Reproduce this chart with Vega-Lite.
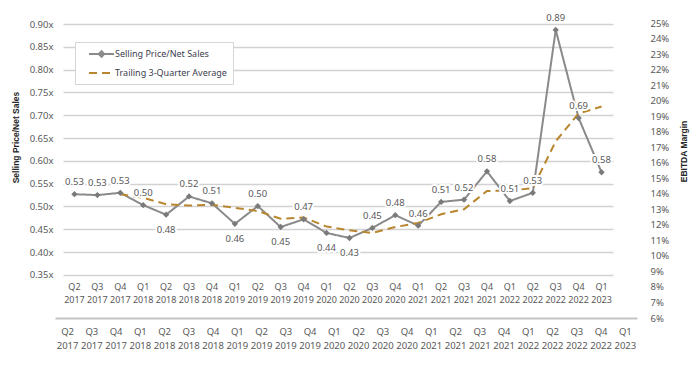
{
"$schema": "https://vega.github.io/schema/vega-lite/v6.json",
"width": 550,
"height": 295,
"autosize": {"type": "none"},
"padding": {"left": 63, "top": 23, "right": 87, "bottom": 56},
"background": "white",
"config": {
  "view": {"stroke": null},
  "font": "Noto Sans",
  "axis": {"labelFont": "Noto Sans", "titleFont": "Liberation Sans"},
  "legend": {"labelFont": "Noto Sans"}
},
"data": {"values": [
  {"q": "Q2 2017", "series": "Selling Price/Net Sales", "v": 0.527, "lbl": "0.53"},
  {"q": "Q3 2017", "series": "Selling Price/Net Sales", "v": 0.525, "lbl": "0.53"},
  {"q": "Q4 2017", "series": "Selling Price/Net Sales", "v": 0.530, "lbl": "0.53"},
  {"q": "Q1 2018", "series": "Selling Price/Net Sales", "v": 0.503, "lbl": "0.50"},
  {"q": "Q2 2018", "series": "Selling Price/Net Sales", "v": 0.482, "lbl": "0.48"},
  {"q": "Q3 2018", "series": "Selling Price/Net Sales", "v": 0.522, "lbl": "0.52"},
  {"q": "Q4 2018", "series": "Selling Price/Net Sales", "v": 0.507, "lbl": "0.51"},
  {"q": "Q1 2019", "series": "Selling Price/Net Sales", "v": 0.462, "lbl": "0.46"},
  {"q": "Q2 2019", "series": "Selling Price/Net Sales", "v": 0.501, "lbl": "0.50"},
  {"q": "Q3 2019", "series": "Selling Price/Net Sales", "v": 0.455, "lbl": "0.45"},
  {"q": "Q4 2019", "series": "Selling Price/Net Sales", "v": 0.472, "lbl": "0.47"},
  {"q": "Q1 2020", "series": "Selling Price/Net Sales", "v": 0.442, "lbl": "0.44"},
  {"q": "Q2 2020", "series": "Selling Price/Net Sales", "v": 0.431, "lbl": "0.43"},
  {"q": "Q3 2020", "series": "Selling Price/Net Sales", "v": 0.453, "lbl": "0.45"},
  {"q": "Q4 2020", "series": "Selling Price/Net Sales", "v": 0.481, "lbl": "0.48"},
  {"q": "Q1 2021", "series": "Selling Price/Net Sales", "v": 0.458, "lbl": "0.46"},
  {"q": "Q2 2021", "series": "Selling Price/Net Sales", "v": 0.510, "lbl": "0.51"},
  {"q": "Q3 2021", "series": "Selling Price/Net Sales", "v": 0.515, "lbl": "0.52"},
  {"q": "Q4 2021", "series": "Selling Price/Net Sales", "v": 0.577, "lbl": "0.58"},
  {"q": "Q1 2022", "series": "Selling Price/Net Sales", "v": 0.512, "lbl": "0.51"},
  {"q": "Q2 2022", "series": "Selling Price/Net Sales", "v": 0.530, "lbl": "0.53"},
  {"q": "Q3 2022", "series": "Selling Price/Net Sales", "v": 0.887, "lbl": "0.89"},
  {"q": "Q4 2022", "series": "Selling Price/Net Sales", "v": 0.694, "lbl": "0.69"},
  {"q": "Q1 2023", "series": "Selling Price/Net Sales", "v": 0.575, "lbl": "0.58"},
  {"q": "Q4 2017", "series": "Trailing 3-Quarter Average", "v": 0.527},
  {"q": "Q1 2018", "series": "Trailing 3-Quarter Average", "v": 0.519},
  {"q": "Q2 2018", "series": "Trailing 3-Quarter Average", "v": 0.505},
  {"q": "Q3 2018", "series": "Trailing 3-Quarter Average", "v": 0.502},
  {"q": "Q4 2018", "series": "Trailing 3-Quarter Average", "v": 0.504},
  {"q": "Q1 2019", "series": "Trailing 3-Quarter Average", "v": 0.497},
  {"q": "Q2 2019", "series": "Trailing 3-Quarter Average", "v": 0.490},
  {"q": "Q3 2019", "series": "Trailing 3-Quarter Average", "v": 0.473},
  {"q": "Q4 2019", "series": "Trailing 3-Quarter Average", "v": 0.476},
  {"q": "Q1 2020", "series": "Trailing 3-Quarter Average", "v": 0.456},
  {"q": "Q2 2020", "series": "Trailing 3-Quarter Average", "v": 0.448},
  {"q": "Q3 2020", "series": "Trailing 3-Quarter Average", "v": 0.442},
  {"q": "Q4 2020", "series": "Trailing 3-Quarter Average", "v": 0.455},
  {"q": "Q1 2021", "series": "Trailing 3-Quarter Average", "v": 0.464},
  {"q": "Q2 2021", "series": "Trailing 3-Quarter Average", "v": 0.483},
  {"q": "Q3 2021", "series": "Trailing 3-Quarter Average", "v": 0.494},
  {"q": "Q4 2021", "series": "Trailing 3-Quarter Average", "v": 0.534},
  {"q": "Q1 2022", "series": "Trailing 3-Quarter Average", "v": 0.535},
  {"q": "Q2 2022", "series": "Trailing 3-Quarter Average", "v": 0.540},
  {"q": "Q3 2022", "series": "Trailing 3-Quarter Average", "v": 0.643},
  {"q": "Q4 2022", "series": "Trailing 3-Quarter Average", "v": 0.704},
  {"q": "Q1 2023", "series": "Trailing 3-Quarter Average", "v": 0.719}
]},
"layer": [
  {"layer": [
    {"mark": {"type": "line", "strokeWidth": 2},
     "encoding": {
       "x": {"field": "q", "type": "ordinal", "sort": null, "scale": {"type": "point", "padding": 0.5}, "axis": null},
       "y": {"field": "v", "type": "quantitative",
             "scale": {"domain": [0.2556, 0.9022], "nice": false, "zero": false},
             "axis": {"values": [0.35, 0.4, 0.45, 0.5, 0.55, 0.6, 0.65, 0.7, 0.75, 0.8, 0.85, 0.9], "tickCount": 40,
                      "labelExpr": "format(datum.value, '.2f') + 'x'", "labelOverlap": false,
                      "grid": true, "gridColor": "#d2d2d2", "gridWidth": 1.5,
                      "domain": false, "ticks": false, "labelPadding": 10,
                      "labelFontSize": 9.5, "labelColor": "#595959",
                      "title": "Selling Price/Net Sales", "titleFontSize": 8.5, "titleFontWeight": "bold",
                      "titleColor": "#262626", "titleX": -48, "titleY": 114, "titleAlign": "center", "titleBaseline": "middle", "titleAngle": -90}},
       "color": {"field": "series", "type": "nominal", "title": null,
                 "scale": {"domain": ["Selling Price/Net Sales", "Trailing 3-Quarter Average"], "range": ["#8a8a8a", "#b8862e"]},
                 "legend": {"orient": "none", "legendX": 12, "legendY": 19, "padding": 6,
                            "strokeColor": "#d6d6d6", "fillColor": "white",
                            "symbolType": "M0.4,0H5.4", "symbolSize": 100, "symbolStrokeWidth": 2,
                            "labelFontSize": 9, "labelColor": "#404050", "rowPadding": 6, "labelOffset": 22,
                            "encode": {"symbols": {"update": {"shape": {"signal": "datum.value === 'Selling Price/Net Sales' ? 'M0.4,0H5.4M2.9,-0.55L3.45,0L2.9,0.55L2.35,0Z' : 'M0.4,0H5.4'"}}}}}},
       "strokeDash": {"field": "series", "type": "nominal", "title": null,
                      "scale": {"domain": ["Selling Price/Net Sales", "Trailing 3-Quarter Average"], "range": [[1, 0], [8, 5]]}}
     }},
    {"transform": [{"filter": "datum.series === 'Selling Price/Net Sales'"}],
     "mark": {"type": "point", "shape": "diamond", "filled": true, "color": "#7a7a7a", "size": 40, "opacity": 1},
     "encoding": {"x": {"field": "q", "type": "ordinal", "sort": null}, "y": {"field": "v", "type": "quantitative"}}},
    {"transform": [{"filter": "datum.series === 'Selling Price/Net Sales'"}, {"filter": {"not": {"field": "q", "oneOf": ["Q2 2018", "Q1 2019", "Q3 2019", "Q1 2020", "Q2 2020"]}}}],
     "mark": {"type": "text", "dy": -12, "fontSize": 9.5, "fill": "white", "stroke": "white", "strokeWidth": 4, "strokeJoin": "round"},
     "encoding": {"x": {"field": "q", "type": "ordinal", "sort": null}, "y": {"field": "v", "type": "quantitative"}, "text": {"field": "lbl"}}},
    {"transform": [{"filter": "datum.series === 'Selling Price/Net Sales'"}, {"filter": {"not": {"field": "q", "oneOf": ["Q2 2018", "Q1 2019", "Q3 2019", "Q1 2020", "Q2 2020"]}}}],
     "mark": {"type": "text", "dy": -12, "fontSize": 9.5, "color": "#595959"},
     "encoding": {"x": {"field": "q", "type": "ordinal", "sort": null}, "y": {"field": "v", "type": "quantitative"}, "text": {"field": "lbl"}}},
    {"transform": [{"filter": "datum.series === 'Selling Price/Net Sales'"}, {"filter": {"field": "q", "oneOf": ["Q2 2018", "Q1 2019", "Q3 2019", "Q1 2020", "Q2 2020"]}}],
     "mark": {"type": "text", "dy": 15, "fontSize": 9.5, "fill": "white", "stroke": "white", "strokeWidth": 4, "strokeJoin": "round"},
     "encoding": {"x": {"field": "q", "type": "ordinal", "sort": null}, "y": {"field": "v", "type": "quantitative"}, "text": {"field": "lbl"}}},
    {"transform": [{"filter": "datum.series === 'Selling Price/Net Sales'"}, {"filter": {"field": "q", "oneOf": ["Q2 2018", "Q1 2019", "Q3 2019", "Q1 2020", "Q2 2020"]}}],
     "mark": {"type": "text", "dy": 15, "fontSize": 9.5, "color": "#595959"},
     "encoding": {"x": {"field": "q", "type": "ordinal", "sort": null}, "y": {"field": "v", "type": "quantitative"}, "text": {"field": "lbl"}}},
    {"transform": [{"filter": "datum.series === 'Selling Price/Net Sales'"}],
     "mark": {"type": "text", "baseline": "top", "fontSize": 9, "color": "#595959", "lineBreak": " ", "lineHeight": 12.5},
     "encoding": {"x": {"field": "q", "type": "ordinal", "sort": null}, "y": {"datum": 0.332, "type": "quantitative"}, "text": {"field": "q"}}}
  ]},
  {"transform": [{"filter": "datum.series === 'Selling Price/Net Sales'"}],
   "mark": {"type": "point", "opacity": 0},
   "encoding": {
     "x": {"field": "q", "type": "ordinal", "sort": null,
           "scale": {"type": "point", "padding": 0.5, "range": [-8, 574]},
           "axis": {"orient": "bottom", "title": null, "domain": true, "domainColor": "#c4c4c4", "domainWidth": 2,
                    "ticks": false, "grid": false, "labelPadding": 8, "labelAngle": 0, "labelOverlap": false,
                    "labelExpr": "split(datum.label, ' ')", "labelFontSize": 9.5, "labelColor": "#595959", "labelLineHeight": 14}},
     "y": {"datum": 0.1, "type": "quantitative",
           "scale": {"domain": [0.06, 0.25], "nice": false, "zero": false},
           "axis": {"orient": "right", "values": [0.06, 0.07, 0.08, 0.09, 0.1, 0.11, 0.12, 0.13, 0.14, 0.15, 0.16, 0.17, 0.18, 0.19, 0.2, 0.21, 0.22, 0.23, 0.24, 0.25], "tickCount": 40,
                    "format": ".0%", "grid": false, "domain": false, "ticks": false, "offset": 30, "labelPadding": 7, "labelOverlap": false,
                    "labelFontSize": 9.5, "labelColor": "#595959",
                    "title": "EBITDA Margin", "titleFontSize": 8.5, "titleFontWeight": "bold", "titleColor": "#262626",
                    "titleAngle": -90, "titleX": 40, "titleY": 128, "titleAlign": "center", "titleBaseline": "middle"}}
   }}
],
"resolve": {"scale": {"x": "independent", "y": "independent"}}
}
